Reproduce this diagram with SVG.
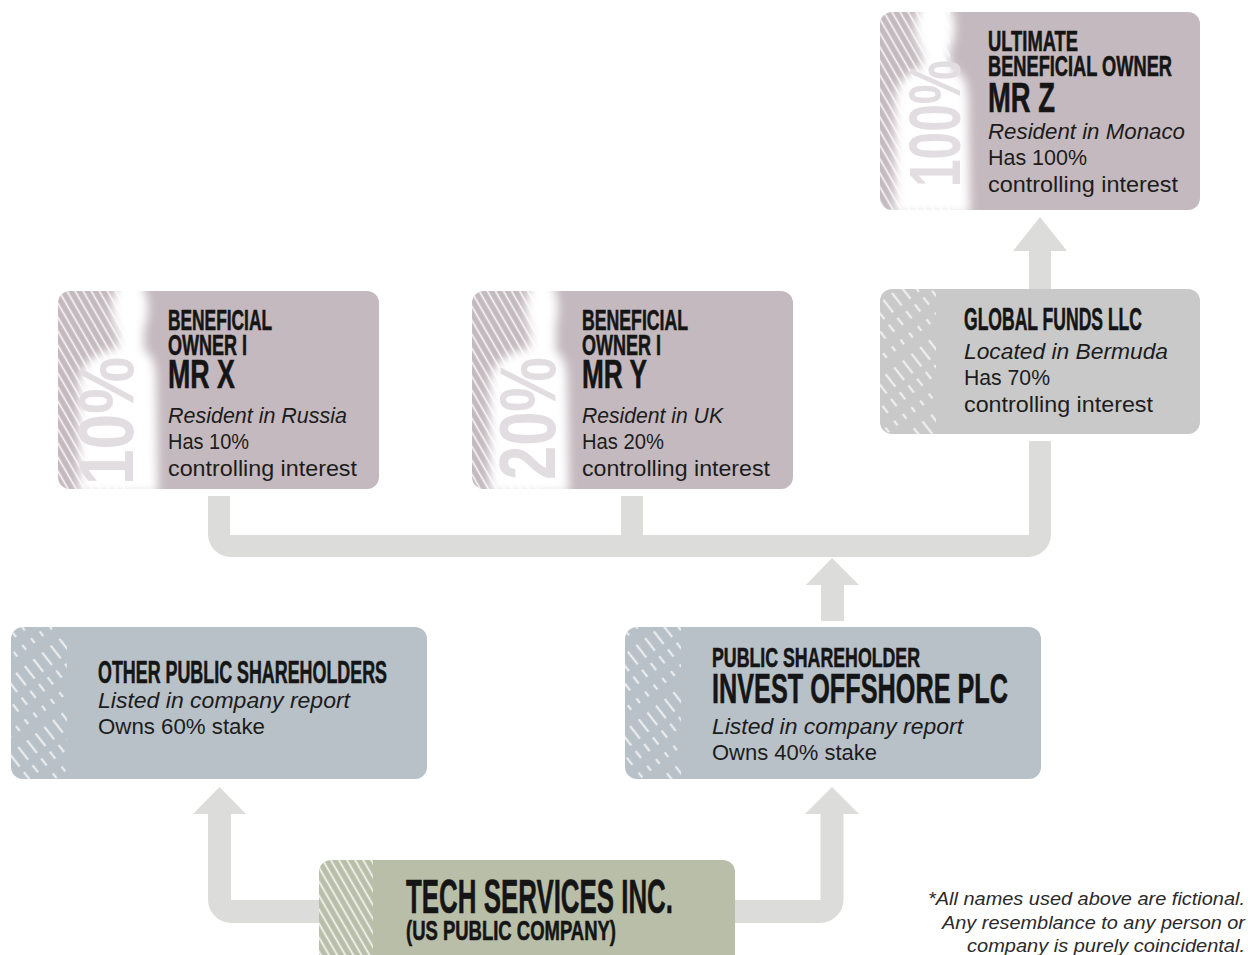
<svg xmlns="http://www.w3.org/2000/svg" width="1248" height="955" viewBox="0 0 1248 955">
<defs>
<style>
.hd{font-family:"Liberation Sans Narrow","Liberation Sans",Arial,sans-serif;font-weight:bold;fill:#151515;stroke:#151515;stroke-width:0.6}
.bd{font-family:"Liberation Sans",Arial,sans-serif;font-size:22px;fill:#1c1c1c}
.it{font-style:italic}
.pc{font-family:"Liberation Sans Narrow","Liberation Sans",Arial,sans-serif;font-weight:bold;fill:#e2dde0}
.fn{font-family:"Liberation Sans",Arial,sans-serif;font-style:italic;font-size:19px;fill:#2a2a2a}
.mauve{fill:#c4b9be}
.grey{fill:#c9c9c9}
.blue{fill:#b8c1c8}
.tech{fill:#b9bea9}
.conn{fill:none;stroke:#dcdcda}
.head{fill:#dcdcda}
.sil{fill:#ffffff;filter:url(#blur)}
</style>
<pattern id="stripes" width="7" height="20" patternUnits="userSpaceOnUse" patternTransform="rotate(-30)">
<line x1="3.5" y1="0" x2="3.5" y2="20" stroke="#ffffff" stroke-width="1.6" opacity="0.9"/>
</pattern>
<pattern id="dstripes" width="11" height="60" patternUnits="userSpaceOnUse" patternTransform="rotate(-38)">
<line x1="5.5" y1="0" x2="5.5" y2="60" stroke="#ffffff" stroke-width="1.8" stroke-dasharray="16 7 9 10 6 12" opacity="0.85"/>
</pattern>
<filter id="blur" x="-30%" y="-30%" width="160%" height="160%">
<feGaussianBlur stdDeviation="5"/>
</filter>
</defs>
<rect width="1248" height="955" fill="#ffffff"/>

<g id="connectors">
<polygon class="head" points="1040,217 1067,251 1051,251 1051,289 1029,289 1029,251 1013,251"/>
<path class="conn" stroke-width="22" d="M219,496 V534 A12,12 0 0 0 231,546 H1028 A12,12 0 0 0 1040,534 V441"/>
<path class="conn" stroke-width="22" d="M632,496 V546"/>
<polygon class="head" points="832,558 859,585 844,585 844,621 821,621 821,585 806,585"/>
<path class="conn" stroke-width="23" d="M319,911.5 H231 A12,12 0 0 1 219.5,899.5 V812"/>
<polygon class="head" points="219.5,787 246,814 193,814"/>
<path class="conn" stroke-width="23" d="M735,911.5 H820 A12,12 0 0 0 832,899.5 V812"/>
<polygon class="head" points="832,787 859,814 805,814"/>
</g>

<g id="mr-z">
<rect class="mauve" x="880" y="12" width="320" height="198" rx="12"/>
<path fill="url(#stripes)" d="M892,12 H950 V210 H892 A12,12 0 0 1 880,198 V24 A12,12 0 0 1 892,12 Z"/>
<g class="sil">
<ellipse cx="935" cy="28" rx="20" ry="32"/>
<rect x="922" y="40" width="28" height="30"/>
<path d="M895,214 L895,105 C895,80 910,68 935,64 C960,66 968,78 968,100 L970,214 Z"/>
</g>
<text class="pc" transform="translate(960,187) rotate(-90)" font-size="72" textLength="127" lengthAdjust="spacingAndGlyphs">100%</text>
<text class="hd" x="988" y="51" font-size="29" textLength="90" lengthAdjust="spacingAndGlyphs">ULTIMATE</text>
<text class="hd" x="988" y="76" font-size="29" textLength="184" lengthAdjust="spacingAndGlyphs">BENEFICIAL OWNER</text>
<text class="hd" x="988" y="112" font-size="42" textLength="67" lengthAdjust="spacingAndGlyphs">MR Z</text>
<text class="bd it" x="988" y="139" textLength="197" lengthAdjust="spacingAndGlyphs">Resident in Monaco</text>
<text class="bd" x="988" y="165" textLength="99" lengthAdjust="spacingAndGlyphs">Has 100%</text>
<text class="bd" x="988" y="192" textLength="190" lengthAdjust="spacingAndGlyphs">controlling interest</text>
</g>

<g id="mr-x">
<rect class="mauve" x="58" y="291" width="321" height="198" rx="12"/>
<path fill="url(#stripes)" d="M70,291 H130 V489 H70 A12,12 0 0 1 58,477 V303 A12,12 0 0 1 70,291 Z"/>
<g class="sil">
<ellipse cx="130" cy="309" rx="18" ry="32"/>
<rect x="118" y="320" width="26" height="30"/>
<path d="M79,493 L79,385 C79,360 100,350 130,346 C150,347 156,360 156,380 L158,493 Z"/>
</g>
<text class="pc" transform="translate(133,485) rotate(-90)" font-size="77" textLength="128" lengthAdjust="spacingAndGlyphs">10%</text>
<text class="hd" x="168" y="330" font-size="29" textLength="104" lengthAdjust="spacingAndGlyphs">BENEFICIAL</text>
<text class="hd" x="168" y="355" font-size="29" textLength="79" lengthAdjust="spacingAndGlyphs">OWNER I</text>
<text class="hd" x="168" y="388" font-size="41" textLength="67" lengthAdjust="spacingAndGlyphs">MR X</text>
<text class="bd it" x="168" y="423" textLength="179" lengthAdjust="spacingAndGlyphs">Resident in Russia</text>
<text class="bd" x="168" y="449" textLength="81" lengthAdjust="spacingAndGlyphs">Has 10%</text>
<text class="bd" x="168" y="476" textLength="189" lengthAdjust="spacingAndGlyphs">controlling interest</text>
</g>

<g id="mr-y">
<rect class="mauve" x="472" y="291" width="321" height="198" rx="12"/>
<path fill="url(#stripes)" d="M484,291 H540 V489 H484 A12,12 0 0 1 472,477 V303 A12,12 0 0 1 484,291 Z"/>
<g class="sil">
<ellipse cx="542" cy="309" rx="16" ry="32"/>
<rect x="530" y="320" width="26" height="30"/>
<path d="M490,493 L490,385 C490,360 512,350 540,346 C560,347 567,360 567,380 L569,493 Z"/>
</g>
<text class="pc" transform="translate(555,480) rotate(-90)" font-size="80" textLength="123" lengthAdjust="spacingAndGlyphs">20%</text>
<text class="hd" x="582" y="330" font-size="29" textLength="106" lengthAdjust="spacingAndGlyphs">BENEFICIAL</text>
<text class="hd" x="582" y="355" font-size="29" textLength="79" lengthAdjust="spacingAndGlyphs">OWNER I</text>
<text class="hd" x="582" y="388" font-size="41" textLength="65" lengthAdjust="spacingAndGlyphs">MR Y</text>
<text class="bd it" x="582" y="423" textLength="141" lengthAdjust="spacingAndGlyphs">Resident in UK</text>
<text class="bd" x="582" y="449" textLength="82" lengthAdjust="spacingAndGlyphs">Has 20%</text>
<text class="bd" x="582" y="476" textLength="188" lengthAdjust="spacingAndGlyphs">controlling interest</text>
</g>

<g id="global-funds">
<rect class="grey" x="880" y="289" width="320" height="145" rx="12"/>
<path fill="url(#dstripes)" d="M892,289 H936 V434 H892 A12,12 0 0 1 880,422 V301 A12,12 0 0 1 892,289 Z"/>
<text class="hd" x="964" y="330" font-size="31" textLength="178" lengthAdjust="spacingAndGlyphs">GLOBAL FUNDS LLC</text>
<text class="bd it" x="964" y="359" textLength="204" lengthAdjust="spacingAndGlyphs">Located in Bermuda</text>
<text class="bd" x="964" y="385" textLength="86" lengthAdjust="spacingAndGlyphs">Has 70%</text>
<text class="bd" x="964" y="412" textLength="189" lengthAdjust="spacingAndGlyphs">controlling interest</text>
</g>

<g id="other-public">
<rect class="blue" x="11" y="627" width="416" height="152" rx="12"/>
<path fill="url(#dstripes)" d="M23,627 H67 V779 H23 A12,12 0 0 1 11,767 V639 A12,12 0 0 1 23,627 Z"/>
<text class="hd" x="98" y="683" font-size="32" textLength="289" lengthAdjust="spacingAndGlyphs">OTHER PUBLIC SHAREHOLDERS</text>
<text class="bd it" x="98" y="708" textLength="252" lengthAdjust="spacingAndGlyphs">Listed in company report</text>
<text class="bd" x="98" y="734" textLength="167" lengthAdjust="spacingAndGlyphs">Owns 60% stake</text>
</g>

<g id="invest-offshore">
<rect class="blue" x="625" y="627" width="416" height="152" rx="12"/>
<path fill="url(#dstripes)" d="M637,627 H681 V779 H637 A12,12 0 0 1 625,767 V639 A12,12 0 0 1 637,627 Z"/>
<text class="hd" x="712" y="667" font-size="28" textLength="208" lengthAdjust="spacingAndGlyphs">PUBLIC SHAREHOLDER</text>
<text class="hd" x="712" y="703" font-size="43" textLength="296" lengthAdjust="spacingAndGlyphs">INVEST OFFSHORE PLC</text>
<text class="bd it" x="712" y="734" textLength="251" lengthAdjust="spacingAndGlyphs">Listed in company report</text>
<text class="bd" x="712" y="760" textLength="165" lengthAdjust="spacingAndGlyphs">Owns 40% stake</text>
</g>

<g id="tech-services">
<rect class="tech" x="319" y="860" width="416" height="110" rx="12"/>
<path fill="url(#stripes)" d="M331,860 H373 V955 H319 V872 A12,12 0 0 1 331,860 Z"/>
<text class="hd" x="406" y="913" font-size="49" textLength="267" lengthAdjust="spacingAndGlyphs">TECH SERVICES INC.</text>
<text class="hd" x="406" y="940" font-size="27" textLength="210" lengthAdjust="spacingAndGlyphs">(US PUBLIC COMPANY)</text>
</g>

<g id="footnote">
<text class="fn" x="1245" y="905" text-anchor="end" textLength="317" lengthAdjust="spacingAndGlyphs">*All names used above are fictional.</text>
<text class="fn" x="1245" y="929" text-anchor="end" textLength="303" lengthAdjust="spacingAndGlyphs">Any resemblance to any person or</text>
<text class="fn" x="1245" y="952" text-anchor="end" textLength="278" lengthAdjust="spacingAndGlyphs">company is purely coincidental.</text>
</g>
</svg>
